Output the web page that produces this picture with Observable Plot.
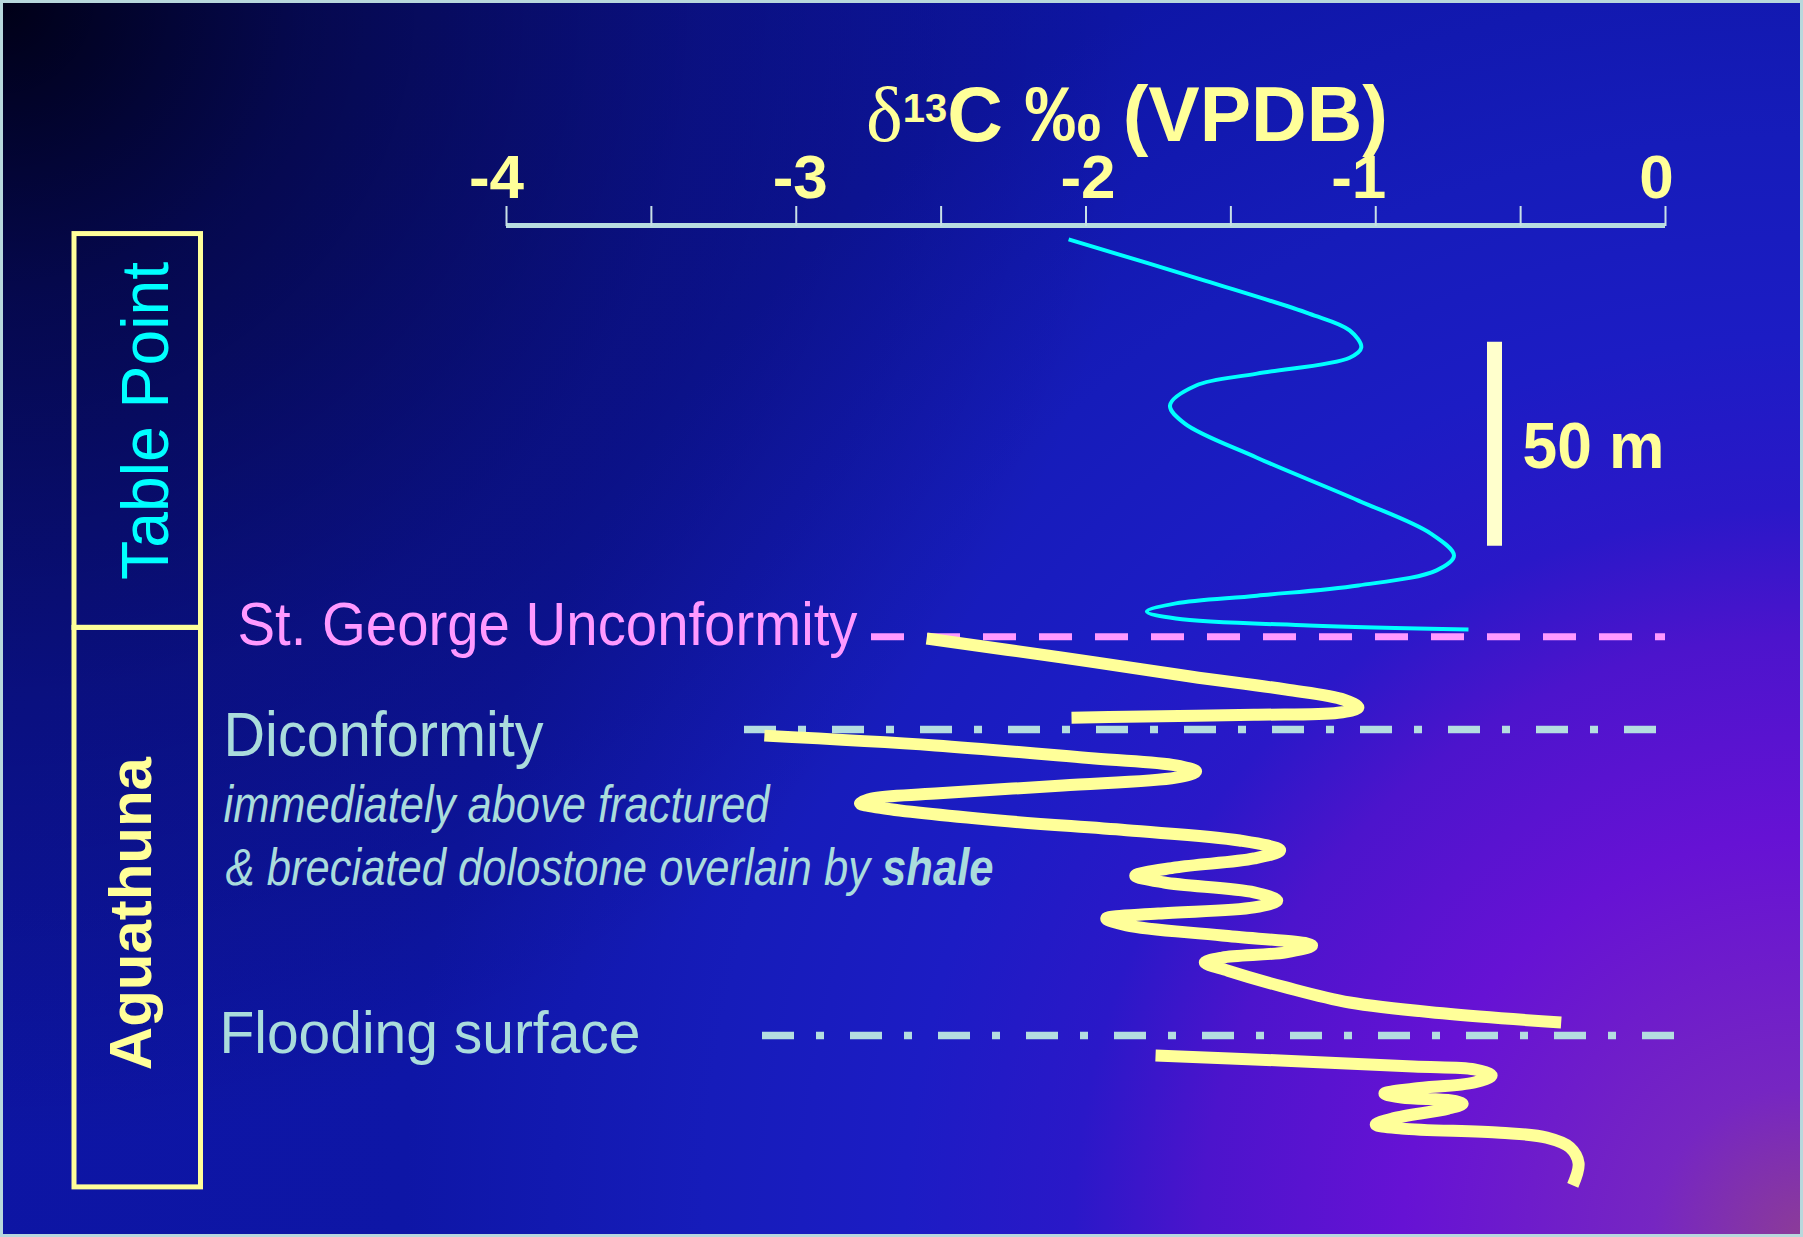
<!DOCTYPE html>
<html>
<head>
<meta charset="utf-8">
<script src="https://cdn.jsdelivr.net/npm/d3@7"></script>
<script src="https://cdn.jsdelivr.net/npm/@observablehq/plot@0.6"></script>
<style>
  html, body { margin: 0; padding: 0; overflow: hidden; background: #c0dce0; }
  #chart svg { display: block; }
</style>
</head>
<body>
<div id="chart"></div>
<script>
// ---------------- DATA ----------------
const xTicks = [-4, -3.5, -3, -2.5, -2, -1.5, -1, -0.5, 0];
const tickLabels = ["-4", "", "-3", "", "-2", "", "-1", "", "0"];
const axisTitle = "δ13C ‰ (VPDB)";

// Table Point δ13C curve (depth in m below top of section, δ13C in ‰)
const tableDepth = [3.4, 13.5, 21.6, 25.7, 29.9, 32.4, 36.3, 39.2, 44.1, 48.5, 56.9, 67.4, 75.5, 80.9, 84.5, 88.2, 90.7, 92.6, 94.6, 96.3, 98.0, 99.0];
const tableD13C  = [-2.06, -1.59, -1.23, -1.09, -1.05, -1.09, -1.41, -1.62, -1.71, -1.66, -1.41, -1.06, -0.81, -0.73, -0.79, -1.06, -1.41, -1.69, -1.79, -1.69, -1.23, -0.68];

// Aguathuna δ13C curve, three segments separated by surfaces
const aguaSegment = [
  "a","a","a","a","a","a","a","a","a","a",
  "b","b","b","b","b","b","b","b","b","b","b","b","b","b","b","b","b","b","b","b","b","b","b","b","b","b","b","b","b","b","b","b","b","b","b",
  "c","c","c","c","c","c","c","c","c","c","c","c","c","c","c","c","c","c","c","c"
];
const aguaDepth = [
  101.2, 105.9, 110.5, 113.7, 116.2, 118.1, 119.4, 119.9, 120.4, 120.6,
  125.0, 127.4, 130.6, 132.3, 133.8, 135.3, 137.2, 139.2, 140.4, 141.6, 142.8, 145.8, 148.2, 150.7, 153.1, 155.1, 157.3, 159.3, 161.0, 163.4, 165.4, 167.1, 168.6, 169.8, 171.5, 174.0, 176.4, 178.1, 179.4, 180.6, 182.6, 186.7, 190.4, 193.1, 195.3,
  203.4, 204.6, 206.1, 206.8, 208.3, 210.0, 211.5, 212.7, 213.7, 214.4, 215.2, 216.4, 218.8, 220.3, 221.3, 222.3, 223.5, 225.9, 229.8, 235.2
];
const aguaD13C = [
  -2.55, -2.08, -1.64, -1.31, -1.11, -1.06, -1.13, -1.42, -1.86, -2.05,
  -3.11, -2.52, -1.97, -1.69, -1.62, -1.69, -2.08, -2.52, -2.74, -2.78, -2.70, -2.30, -1.86, -1.47, -1.33, -1.42, -1.69, -1.83, -1.73, -1.42, -1.34, -1.42, -1.75, -1.93, -1.86, -1.53, -1.22, -1.31, -1.53, -1.59, -1.51, -1.31, -1.09, -0.76, -0.36,
  -1.76, -1.33, -0.87, -0.66, -0.60, -0.66, -0.87, -0.97, -0.91, -0.74, -0.70, -0.75, -0.94, -1.00, -0.91, -0.57, -0.41, -0.33, -0.30, -0.32
];

// Formations (depth of top and base, m)
const formationNames = ["Table Point", "Aguathuna"];
const formationTop   = [2.1, 98.6];
const formationBase  = [98.6, 235.7];

// Surfaces (depth, m) and notes
const surfaceNames = ["St. George Unconformity", "Diconformity", "Flooding surface"];
const surfaceDepth = [100.8, 123.5, 198.5];
const surfaceNote  = ["immediately above fractured", "& breciated dolostone overlain by shale"];

// Scale bar (m)
const scaleBarTop = 28.6;
const scaleBarLength = 50;
const scaleBarLabel = "50 m";

// ---------------- TABLES ----------------
const table = tableDepth.map((d, i) => ({depth: d, d13C: tableD13C[i]}));
const agua = aguaDepth.map((d, i) => ({seg: aguaSegment[i], depth: d, d13C: aguaD13C[i]}));
const formations = formationNames.map((n, i) => ({name: n, top: formationTop[i], base: formationBase[i]}));
const surfaces = surfaceNames.map((n, i) => ({name: n, depth: surfaceDepth[i]}));
const tickLabel = new Map(xTicks.map((t, i) => [t, tickLabels[i]]));

// ---------------- LAYOUT ----------------
const W = 1803, H = 1237;
const mL = 506, mR = 138, mT = 225, mB = 4;
// helper to express layout pixel columns in x-scale units (annotations outside the data frame)
const px2x = p => -4 + 4 * (p - mL) / (W - mR - mL);
// small horizontal nudges of the tick labels (as set in the original slide)
const tickLabelNudge = {"-4": -10, "-3": 4, "-2": 2, "-1": -17, "0": -9};

const YEL = "#ffff99", CYAN = "#00ffff", PINK = "#ff99ff", LBLUE = "#aadcdc", LINEBLUE = "#b4dde0";

const chart = Plot.plot({
  width: W, height: H,
  marginLeft: mL, marginRight: mR, marginTop: mT, marginBottom: mB,
  x: {domain: [-4, 0]},
  y: {domain: [0, 247], reverse: true, axis: null},
  style: {
    fontFamily: "'Liberation Sans', Arial, sans-serif",
    fontSize: "40px",
    overflow: "visible",
    background: "radial-gradient(circle at 0 0, rgba(0,0,22,1) 0px, rgba(0,0,22,0.6) 300px, rgba(0,0,22,0.25) 700px, rgba(0,0,22,0) 1150px), radial-gradient(circle at 100% 100%, #8c3c98 0px, #7626c2 150px, #6612d4 400px, #4c14cc 600px, #2a18c8 730px, #1c1cc4 900px, #161cba 1100px, #0e16a6 1400px, #0c14a0 2300px)",
    boxShadow: "inset 0 0 0 3px #b8d8dc"
  },
  marks: [
    // formation column
    Plot.rect(formations, {x1: px2x(74), x2: px2x(200.5), y1: "top", y2: "base", fill: "none", stroke: YEL, strokeWidth: 5}),
    Plot.text(formations.slice(0, 1), {x: px2x(167), y: d => (d.top + d.base) / 2, dy: -10, text: "name", rotate: -90, lineAnchor: "bottom", fill: CYAN, fontSize: 66}),
    Plot.text(formations.slice(1), {x: px2x(150), y: d => (d.top + d.base) / 2, dy: 6, text: "name", rotate: -90, lineAnchor: "bottom", fill: YEL, fontSize: 59, fontWeight: "bold"}),

    // axis
    Plot.ruleY([0], {stroke: "#b8dce0", strokeWidth: 5}),
    Plot.axisX({anchor: "top", ticks: xTicks, tickFormat: d => tickLabel.get(d) ?? "", tickSize: 20, tickPadding: 8,
      stroke: "#c8e0e6", strokeWidth: 2, fill: YEL, fontSize: 62, fontWeight: "bold", label: null}),
    Plot.text([axisTitle], {frameAnchor: "top", dx: 41, dy: -85, lineAnchor: "bottom", fill: YEL, fontSize: 77, fontWeight: "bold"}),

    // surfaces
    Plot.ruleY(surfaces.slice(0, 1), {y: "depth", x1: px2x(871), x2: 0, stroke: PINK, strokeWidth: 7, strokeDasharray: "33,23"}),
    Plot.ruleY(surfaces.slice(1, 2), {y: "depth", x1: px2x(744), x2: 0, stroke: LINEBLUE, strokeWidth: 7.5, strokeDasharray: "32,22,8,26"}),
    Plot.ruleY(surfaces.slice(2, 3), {y: "depth", x1: px2x(762), x2: px2x(1674), stroke: LINEBLUE, strokeWidth: 7.5, strokeDasharray: "32,22,8,26"}),

    Plot.text(surfaces.slice(0, 1), {x: px2x(237), y: "depth", dy: 8, text: "name", textAnchor: "start", lineAnchor: "bottom", fill: PINK, fontSize: 61}),
    Plot.text(surfaces.slice(1, 2), {x: px2x(223), y: "depth", dy: 26, text: "name", textAnchor: "start", lineAnchor: "bottom", fill: LBLUE, fontSize: 63}),
    Plot.text(surfaces.slice(2, 3), {x: px2x(219), y: "depth", dy: 17, text: "name", textAnchor: "start", lineAnchor: "bottom", fill: LBLUE, fontSize: 60}),
    Plot.text([surfaceNote[0]], {x: px2x(223), y: surfaceDepth[1], dy: 92, textAnchor: "start", lineAnchor: "bottom", fill: LBLUE, fontSize: 52, fontStyle: "italic"}),
    Plot.text([surfaceNote[1]], {x: px2x(225), y: surfaceDepth[1], dy: 155, textAnchor: "start", lineAnchor: "bottom", fill: LBLUE, fontSize: 52, fontStyle: "italic"}),

    // scale bar
    Plot.ruleX([scaleBarTop], {x: px2x(1494), y1: d => d, y2: d => d + scaleBarLength, stroke: "#ffffcc", strokeWidth: 15}),
    Plot.text([scaleBarTop], {x: px2x(1494), y: d => d + scaleBarLength / 2, text: () => scaleBarLabel, dx: 28, dy: 24, textAnchor: "start", lineAnchor: "bottom", fill: YEL, fontSize: 64, fontWeight: "bold"}),

    // curves
    Plot.line(table, {x: "d13C", y: "depth", curve: "catmull-rom", stroke: CYAN, strokeWidth: 4, strokeLinecap: "butt"}),
    Plot.line(agua, {x: "d13C", y: "depth", z: "seg", curve: "catmull-rom", stroke: YEL, strokeWidth: 12, strokeLinecap: "butt", strokeLinejoin: "round"})
  ]
});

document.getElementById("chart").appendChild(chart);

// ---------------- TEXT FINISHING ----------------
const NS = "http://www.w3.org/2000/svg";
const texts = Array.from(chart.querySelectorAll("text"));
function findText(str) { return texts.find(e => e.textContent === str); }
function fit(str, len) {
  const t = findText(str);
  if (t) { t.setAttribute("textLength", len); t.setAttribute("lengthAdjust", "spacingAndGlyphs"); }
  return t;
}
fit("Table Point", 318);
fit("Aguathuna", 313);
fit("St. George Unconformity", 620);
fit("Diconformity", 320);
fit("Flooding surface", 421);
fit(surfaceNote[0], 546);
fit("50 m", 142);

// tick-label nudges
texts.forEach(t => {
  const k = t.textContent;
  if (k in tickLabelNudge && t.closest("g[aria-label='x-axis tick label']")) {
    t.setAttribute("dx", tickLabelNudge[k]);
  }
});

const note2 = fit(surfaceNote[1], 768);
if (note2) {
  note2.textContent = "& breciated dolostone overlain by ";
  const b = document.createElementNS(NS, "tspan");
  b.setAttribute("font-weight", "bold");
  b.textContent = "shale";
  note2.appendChild(b);
}

const title = findText(axisTitle);
if (title) {
  title.textContent = "";
  const t1 = document.createElementNS(NS, "tspan");
  t1.setAttribute("font-family", "'Liberation Serif', 'Times New Roman', serif");
  t1.setAttribute("font-weight", "normal");
  t1.setAttribute("font-size", "78");
  t1.textContent = "δ";
  const t2 = document.createElementNS(NS, "tspan");
  t2.setAttribute("font-size", "40");
  t2.setAttribute("dy", "-19");
  t2.textContent = "13";
  const t3 = document.createElementNS(NS, "tspan");
  t3.setAttribute("dy", "19");
  t3.textContent = "C ‰ (VPDB)";
  title.appendChild(t1); title.appendChild(t2); title.appendChild(t3);
}
</script>
</body>
</html>
